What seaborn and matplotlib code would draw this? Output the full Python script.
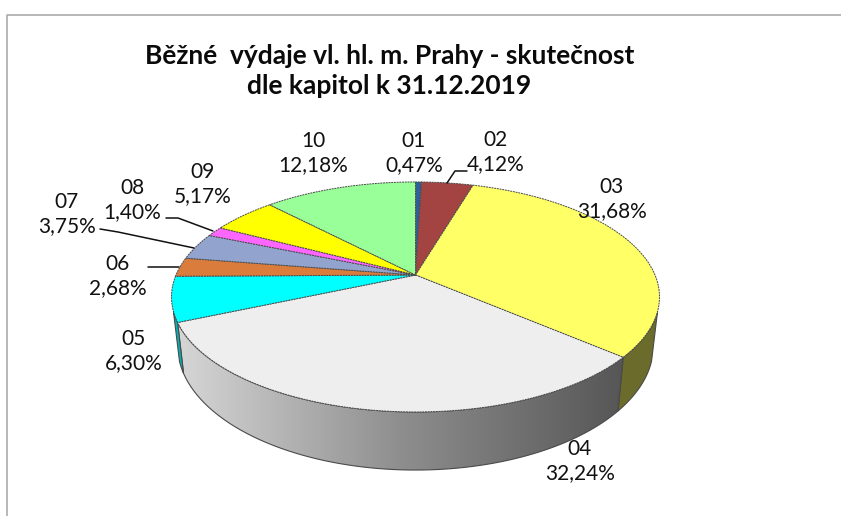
import numpy as np
import matplotlib
matplotlib.use("Agg")
import matplotlib.pyplot as plt
from matplotlib.colors import LinearSegmentedColormap
from matplotlib.patches import Polygon
import seaborn as sns

chapters = ["01", "02", "03", "04", "05", "06", "07", "08", "09", "10"]
shares = [0.47, 4.12, 31.68, 32.24, 6.30, 2.68, 3.75, 1.40, 5.17, 12.18]
top_colors = ["#2F5F98", "#A34342", "#FFFF66", "#EEEEEE", "#00FFFF",
              "#D97C3C", "#92A4CE", "#FF66FF", "#FFFF00", "#99FF99"]
wall_colors = {"03": "#6B6B2B", "05": "#00B4B8"}
title_lines = "Běžné  výdaje vl. hl. m. Prahy - skutečnost\ndle kapitol k 31.12.2019"

sns.set_theme(style="white")
plt.rcParams["font.family"] = ["Lato", "DejaVu Sans"]

fig = plt.figure(figsize=(8.41, 5.16), dpi=100)
ax = fig.add_axes([0, 0, 1, 1])
ax.set_xlim(0, 841)
ax.set_ylim(516, 0)
ax.axis("off")

# perspective projection of the pie disc
X0, Y0, A, B, K, DEPTH, SHRINK = 415.5, 275.0, 239.5, 110.8, 0.191, 47.0, 0.975

def project(theta, lower=False):
    t = np.radians(theta)
    sx, cy = np.sin(t), np.cos(t)
    w = 1 + K * cy
    x = X0 + (SHRINK if lower else 1.0) * A * sx / w
    y = Y0 - B * cy / w + (DEPTH / w if lower else 0.0)
    return x, y

edges = np.concatenate([[0], np.cumsum(shares)])
edges = edges / edges[-1] * 360.0
OUT = "#4A4A4A"

# side wall
WALL_START, WALL_END = 108.0, 252.0
gray = LinearSegmentedColormap.from_list("g", ["#D6D6D6", "#8E8E8E", "#565656"])
for i, name in enumerate(chapters):
    a, b = max(edges[i], WALL_START), min(edges[i + 1], WALL_END)
    if b <= a:
        continue
    th = np.linspace(a, b, 120)
    xt, yt = project(th)
    xb, yb = project(th[::-1], lower=True)
    pts = np.column_stack([np.r_[xt, xb], np.r_[yt, yb]])
    if name == "04":
        patch = Polygon(pts, closed=True, fc="none", ec=OUT, lw=0.8, zorder=2)
        ax.add_patch(patch)
        im = ax.imshow(np.linspace(0, 1, 256)[None, :], cmap=gray, aspect="auto",
                       extent=(pts[:, 0].min(), pts[:, 0].max(), pts[:, 1].max(), pts[:, 1].min()),
                       zorder=1)
        im.set_clip_path(patch)
    else:
        ax.add_patch(Polygon(pts, closed=True, fc=wall_colors.get(name, "#808080"),
                             ec=OUT, lw=0.8, zorder=2))

# top slices
for i, name in enumerate(chapters):
    th = np.linspace(edges[i], edges[i + 1], 200)
    x, y = project(th)
    ax.fill(np.r_[X0, x], np.r_[Y0, y], fc=top_colors[i], ec=OUT, lw=0.7,
            ls=(0, (2, 0.8)), zorder=3)

# labels: centre of the two-line block, in figure pixels
label_pos = [(414, 153), (496, 152), (612, 199), (580, 461), (134, 351),
             (118, 276), (67, 214), (132, 200), (203, 184), (313, 153)]
for name, share, (lx, ly) in zip(chapters, shares, label_pos):
    txt = f"{name}\n" + f"{share:.2f}".replace(".", ",") + "%"
    ax.text(lx, ly, txt, ha="center", va="center", fontsize=15, color="#111111",
            linespacing=1.22, zorder=5)

# leader lines
leaders = [([447, 455, 467], [183, 171, 171]),
           ([166, 178, 213], [218, 218, 231]),
           ([100, 118, 194], [229, 232, 248]),
           ([148, 179], [267, 267])]
for lx, ly in leaders:
    ax.plot(lx, ly, color="#111111", lw=1.1, zorder=4)

ax.text(389.5, 71, title_lines, ha="center", va="center", fontsize=19, fontweight="bold",
        color="#0A0A0A", linespacing=1.3, zorder=5)

# chart frame
ax.plot([841, 7.5, 7.5], [14.5, 14.5, 516], color="#ABABAB", lw=1.2, zorder=0, clip_on=False)

fig.savefig("out.png", dpi=100, facecolor="white")
